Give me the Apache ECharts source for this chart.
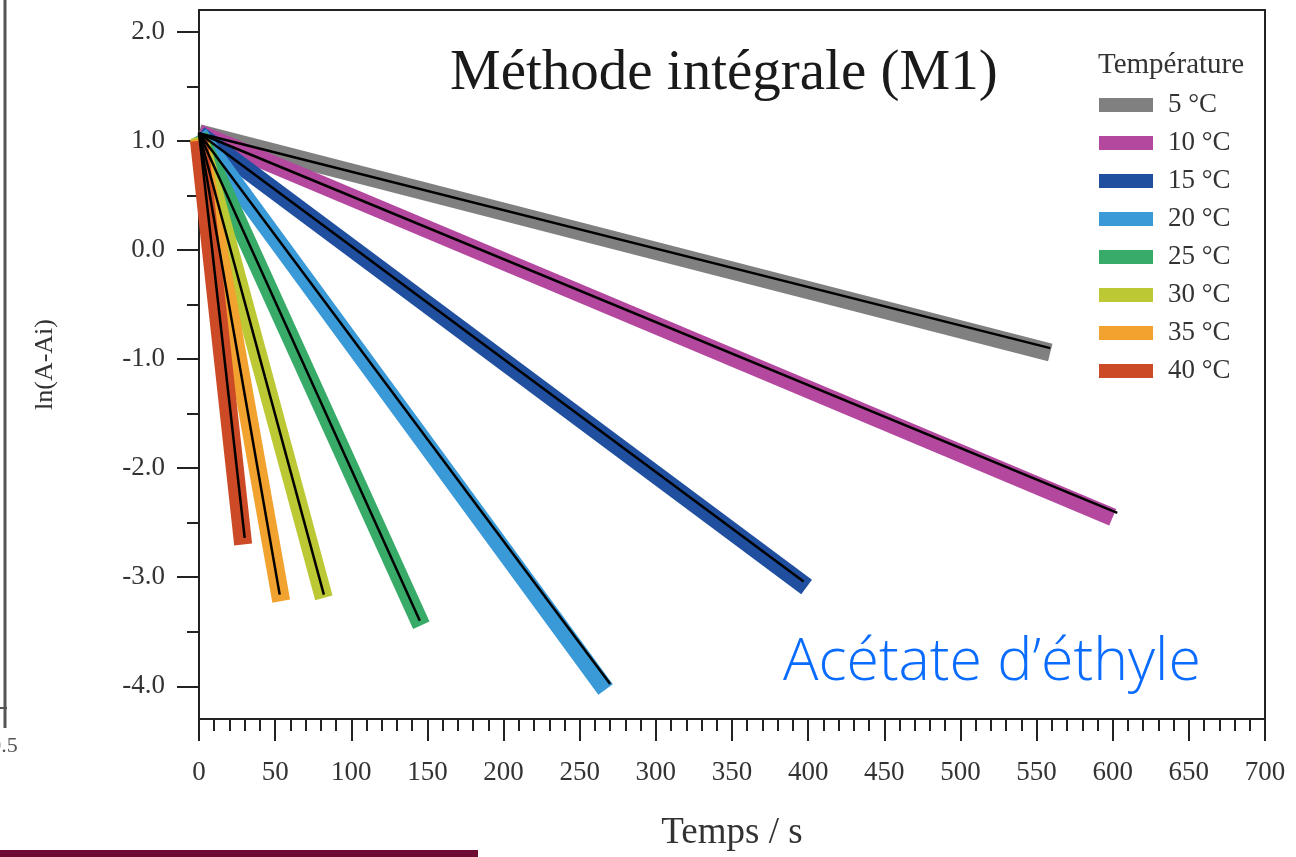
<!DOCTYPE html>
<html>
<head>
<meta charset="utf-8">
<script src="https://cdn.jsdelivr.net/npm/echarts@6/dist/echarts.min.js"></script>
<style>
  html, body { margin: 0; height: 100%; background: #fff; }
  #chart { width: 1296px; height: 857px; }
</style>
</head>
<body>
<div id="chart"></div>
<script>
  // temperatures (legend)
  const temps = ['5 °C', '10 °C', '15 °C', '20 °C', '25 °C', '30 °C', '35 °C', '40 °C'];

  const bandStartY = [1.07, 1.07, 1.06, 1.06, 1.05, 1.04, 1.02, 1.00];
  const bandEndT = [559, 600, 399, 267, 146, 82, 54, 29];
  const bandEndY = [-0.94, -2.45, -3.09, -4.03, -3.44, -3.19, -3.22, -2.70];

  // linear fits (black lines)
  const fitStartY = [1.07, 1.07, 1.07, 1.07, 1.07, 1.07, 1.07, 1.07];
  const fitEndT = [559, 603, 397, 270, 145, 82, 53, 30];
  const fitEndY = [-0.90, -2.41, -3.04, -3.98, -3.40, -3.16, -3.16, -2.64];

  // axis ticks
  const yMajor = [-4, -3, -2, -1, 0, 1, 2];
  const yMinor = [-3.5, -2.5, -1.5, -0.5, 0.5, 1.5];

  const colors = ['#808080', '#b4489f', '#1f4f9e', '#3a9ad8', '#38ab68', '#bcc834', '#f2a22f', '#cc4b26'];
  const serif = "'Liberation Serif', 'DejaVu Serif', serif";

  const chart = echarts.init(document.getElementById('chart'), null, { renderer: 'canvas' });

  const series = [];
  temps.forEach(function (name, i) {
    series.push({
      name: name,
      type: 'line',
      showSymbol: false,
      clip: false,
      data: [[0, bandStartY[i]], [bandEndT[i], bandEndY[i]]],
      itemStyle: { color: colors[i] },
      lineStyle: { color: colors[i], width: 18, cap: 'butt' },
      z: 2
    });
  });
  temps.forEach(function (name, i) {
    series.push({
      name: 'fit ' + name,
      type: 'line',
      showSymbol: false,
      data: [[0, fitStartY[i]], [fitEndT[i], fitEndY[i]]],
      lineStyle: { color: '#000', width: 2.5 },
      z: 3
    });
  });

  const option = {
    backgroundColor: '#fff',
    animation: false,
    title: [
      {
        text: 'Méthode intégrale (M1)',
        left: 445,
        top: 41,
        textStyle: { fontFamily: serif, fontSize: 57, fontWeight: 'normal', color: '#1a1a1a' }
      },
      {
        text: 'Température',
        left: 1093,
        top: 46,
        textStyle: { fontFamily: serif, fontSize: 29, fontWeight: 'normal', color: '#333' }
      }
    ],
    legend: {
      data: temps,
      orient: 'vertical',
      left: 1099,
      top: 91,
      padding: 0,
      itemWidth: 54,
      itemHeight: 14,
      itemGap: 10,
      icon: 'rect',
      textStyle: { fontFamily: serif, fontSize: 27, lineHeight: 28, color: '#333', padding: [0, 0, 0, 10] }
    },
    grid: {
      left: 199, right: 31, top: 10, bottom: 137,
      show: true, borderColor: '#222', borderWidth: 2
    },
    xAxis: {
      type: 'value',
      min: 0, max: 700, interval: 50,
      name: 'Temps / s',
      nameLocation: 'middle',
      nameGap: 96,
      nameTextStyle: { fontFamily: serif, fontSize: 37, color: '#333' },
      axisLine: { onZero: false, lineStyle: { color: '#222', width: 2 } },
      axisTick: { length: 22, lineStyle: { color: '#222', width: 2 } },
      minorTick: { show: true, splitNumber: 5, length: 12, lineStyle: { color: '#222', width: 2 } },
      splitLine: { show: false },
      axisLabel: { margin: 40, fontFamily: serif, fontSize: 27, color: '#333' }
    },
    yAxis: [
      {
        type: 'value',
        min: -4.3, max: 2.2,
        name: 'ln(A-Ai)',
        nameLocation: 'middle',
        nameGap: 141,
        nameTextStyle: { fontFamily: serif, fontSize: 26, color: '#333' },
        axisLine: { show: true, onZero: false, lineStyle: { color: '#222', width: 2 } },
        axisTick: { show: true, customValues: yMajor, length: 22, lineStyle: { color: '#222', width: 2 } },
        splitLine: { show: false },
        axisLabel: {
          customValues: yMajor,
          margin: 34,
          fontFamily: serif, fontSize: 27, color: '#333',
          formatter: function (v) { return v.toFixed(1); }
        }
      },
      {
        type: 'value',
        min: -4.3, max: 2.2,
        position: 'left',
        axisLine: { show: false, onZero: false },
        axisTick: { show: true, customValues: yMinor, length: 12, lineStyle: { color: '#222', width: 2 } },
        splitLine: { show: false },
        axisLabel: { show: false }
      }
    ],
    graphic: [
      { type: 'line', shape: { x1: 5, y1: 0, x2: 5, y2: 728 }, style: { stroke: '#555', lineWidth: 3 } },
      { type: 'line', shape: { x1: 0, y1: 708, x2: 7, y2: 708 }, style: { stroke: '#555', lineWidth: 2 } },
      { type: 'text', x: -17, y: 735, style: { text: '-0.5', font: "22px 'Liberation Serif'", fill: '#555' } },
      { type: 'rect', shape: { x: 0, y: 850, width: 478, height: 7 }, style: { fill: '#6e0b34' } },
      {
        type: 'text', x: 783, y: 634,
        style: { text: 'Acétate d’éthyle', font: "300 59px 'Open Sans'", fill: '#0a6cff' }
      }
    ],
    series: series
  };

  chart.setOption(option);
  window.addEventListener('resize', chart.resize);
</script>
</body>
</html>
